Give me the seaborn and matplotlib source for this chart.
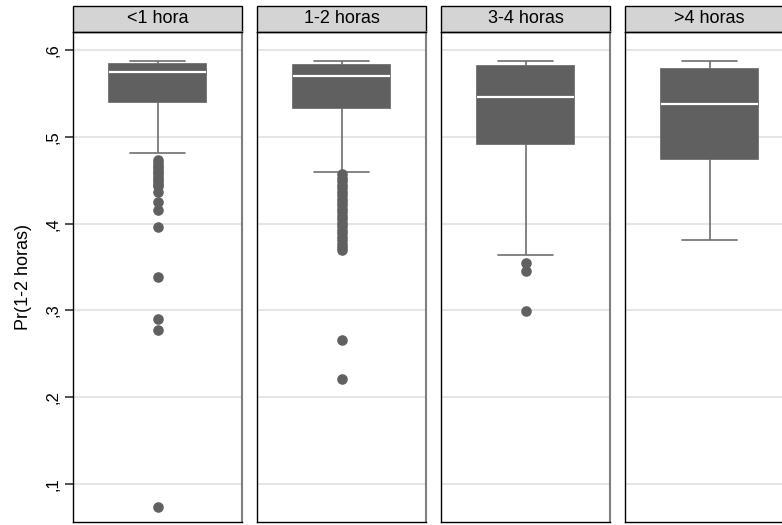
import numpy as np
import pandas as pd
import seaborn as sns
import matplotlib
matplotlib.use("Agg")
import matplotlib.pyplot as plt
from matplotlib.patches import Rectangle

# Groups (time spent) and box summary values for Pr(1-2 horas)
grupos = ["<1 hora", "1-2 horas", "3-4 horas", ">4 horas"]
bigote_inf = [0.482, 0.460, 0.364, 0.381]
cuartil_1 = [0.540, 0.533, 0.492, 0.475]
mediana = [0.575, 0.570, 0.546, 0.538]
cuartil_3 = [0.584, 0.583, 0.582, 0.578]
bigote_sup = [0.587, 0.587, 0.587, 0.587]
atipicos = [
    [0.473, 0.470, 0.467, 0.464, 0.461, 0.458, 0.455, 0.452, 0.449, 0.446,
     0.443, 0.436, 0.425, 0.416, 0.396, 0.339, 0.290, 0.277, 0.073],
    [0.457, 0.453, 0.449, 0.445, 0.441, 0.437, 0.433, 0.429, 0.425, 0.421,
     0.417, 0.413, 0.409, 0.405, 0.401, 0.397, 0.393, 0.389, 0.385, 0.381,
     0.377, 0.373, 0.370, 0.266, 0.221],
    [0.355, 0.345, 0.299],
    [],
]
yticks = [0.1, 0.2, 0.3, 0.4, 0.5, 0.6]
ytick_labels = [",1", ",2", ",3", ",4", ",5", ",6"]

# Long-format table whose quartiles / whiskers / outliers reproduce the summaries
M = 200
filas = []
for i, g in enumerate(grupos):
    vals = (list(atipicos[i]) + [bigote_inf[i]] + [cuartil_1[i]] * M
            + [mediana[i]] * M + [cuartil_3[i]] * M + [bigote_sup[i]])
    filas += [(g, v) for v in vals]
df = pd.DataFrame(filas, columns=["grupo", "pr"])

sns.set_style("white")
plt.rcParams["font.family"] = ["Liberation Sans", "DejaVu Sans"]
plt.rcParams["text.color"] = "black"
plt.rcParams["axes.labelcolor"] = "black"
plt.rcParams["ytick.color"] = "black"

W, H = 782, 525
fig = plt.figure(figsize=(W / 100, H / 100), dpi=100)

left0, pw, gap = 73, 169, 15
top_px, bot_px, head_px = 32, 522, 26
box_col = "#606060"
line_col = "#6e6e6e"

axes = []
for i, g in enumerate(grupos):
    x0 = left0 + i * (pw + gap)
    ax = fig.add_axes([x0 / W, 1 - bot_px / H, pw / W, (bot_px - top_px) / H])
    sns.boxplot(data=df[df["grupo"] == g], y="pr", ax=ax, color=box_col,
                saturation=1, width=0.57, whis=1.5, linecolor=line_col,
                linewidth=1.2, fliersize=6.6, capwidths=0.32,
                boxprops=dict(facecolor=box_col, edgecolor=box_col),
                medianprops=dict(color="white", linewidth=1.6),
                whiskerprops=dict(color=line_col, linewidth=1.2),
                capprops=dict(color=line_col, linewidth=1.2),
                flierprops=dict(marker="o", markerfacecolor=box_col,
                                markeredgecolor=box_col))
    ax.set_xlim(-0.5, 0.5)
    ax.set_ylim(0.056, 0.621)
    ax.set_yticks(yticks)
    ax.yaxis.grid(True, color="#e0e0e0", linewidth=1.2)
    ax.set_axisbelow(True)
    ax.set_xticks([])
    ax.set_xlabel("")
    for s in ["left", "bottom", "top"]:
        ax.spines[s].set_color("black")
        ax.spines[s].set_linewidth(1.0)
    ax.spines["right"].set_color("#808080")
    ax.spines["right"].set_linewidth(1.5)
    if i == 0:
        ax.set_yticklabels(ytick_labels, rotation=90, va="center", fontsize=12)
        ax.tick_params(axis="y", left=True, length=6, width=1.2,
                       color="#333333", pad=3)
        ax.set_ylabel("Pr(1-2 horas)", fontsize=13, labelpad=10)
    else:
        ax.set_ylabel("")
        ax.tick_params(axis="y", left=False, labelleft=False)
    # panel header strip
    hh = head_px / (bot_px - top_px)
    ax.add_patch(Rectangle((0, 1), 1, hh, transform=ax.transAxes, clip_on=False,
                           facecolor="#d4d4d4", edgecolor="black", linewidth=1.0))
    ax.text(0.5, 1 + hh / 2, g, transform=ax.transAxes, ha="center", va="center",
            fontsize=13)
    axes.append(ax)

fig.savefig("out.png", dpi=100)
